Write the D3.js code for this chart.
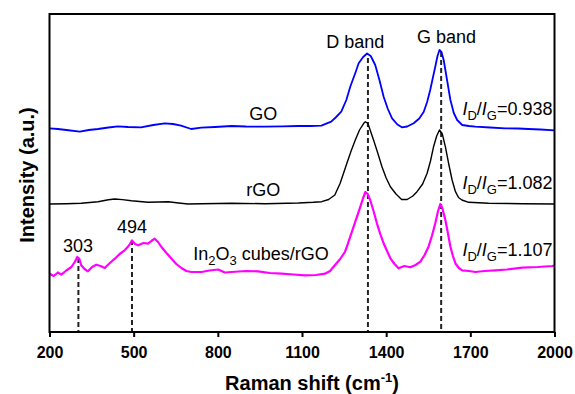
<!DOCTYPE html>
<meta charset="utf-8">
<style>
body {
    margin: 0;
    background: #fff;
}
svg {
    font-family: Arial, "Liberation Sans", Helvetica, sans-serif;
}
.frame {
    fill: none;
    stroke: #000;
    stroke-width: 2px;
}
.axis path {
    display: none;
}
.axis line {
    stroke: #000;
    stroke-width: 2px;
}
.axis text {
    font-size: 16px;
    font-weight: bold;
    fill: #000;
}
.spectrum {
    fill: none;
    stroke-linejoin: round;
}
.marker {
    stroke: #222;
    stroke-width: 2px;
    stroke-dasharray: 5,3;
}
.note {
    font-size: 18px;
    fill: #000;
}
.title {
    font-size: 20px;
    font-weight: bold;
    fill: #000;
}
</style>
<body>
<svg width="575" height="394"></svg>

<script src="https://cdn.jsdelivr.net/npm/d3@7"></script>
<script>
// Raman spectra (shift in cm-1, intensity in a.u. with the stacking offset included)
var goData = [
    [200,203.7],[230,203],[260,202],[308,200.3],[340,202],[373,203],[410,204.5],[444,205.7],
    [480,205],[526,204.7],[570,207],[611,208.7],[640,208],[669,206.3],[705,203],[741,204.3],
    [790,205],[848,206],[900,205.5],[968,205.3],[1030,205.7],[1087,206],[1130,206],[1169,206.3],
    [1204,210.3],[1220,214.5],[1240,220.3],[1258,232],[1272,245.3],[1290,259],[1302,268.7],
    [1318,275],[1332,278.5],[1345,276],[1361,267],[1376,252],[1391,235.3],[1406,223],[1421,213.7],
    [1440,207.5],[1456,204.7],[1475,205.5],[1498,208.7],[1518,213.5],[1534,220.3],[1546,230],
    [1557,242],[1567,255],[1575,265.3],[1583,276],[1590,282],[1597,280],[1605,272],[1617,252],
    [1629,232],[1641,219],[1653,212],[1671,207],[1695,206],[1718,205.3],[1770,204.5],[1825,203.7],
    [1870,203.5],[1907,203],[1950,202.5],[2000,201.7]
];

var rgoData = [
    [200,128],[260,128.3],[313,128.7],[373,130.3],[410,132.2],[433,133],[460,132.4],[492,131.3],
    [551,129.7],[590,130],[623,130.3],[660,129],[694,128],[742,128.3],[800,128.5],[848,128.7],
    [968,128.3],[1087,129],[1140,129.7],[1170,130.3],[1195,132.5],[1217,137],[1236,148.7],
    [1260,168.7],[1275,181],[1290,192],[1305,202],[1320,208.7],[1326,210.3],[1335,208.5],
    [1355,192],[1370,179],[1385,165.3],[1400,154],[1415,145.3],[1435,138],[1455,132.5],
    [1475,132.5],[1495,136],[1510,140.3],[1530,148],[1546,158.7],[1558,171],[1569,185.3],
    [1580,196],[1590,202],[1600,198],[1611,185.3],[1623,168],[1635,152],[1647,140.3],
    [1658,134.5],[1670,132],[1694,129.7],[1765,128.7],[1885,128.3],[2000,128]
];

var in2o3Data = [
    [200,58.3],[215,56],[230,59.5],[242,57.3],[260,61.5],[278,65],[290,70],[299,75],[306,73.5],
    [313,66.7],[325,63],[337,60.7],[352,65],[367,67.3],[382,66],[397,64],[415,69],[433,73.3],
    [450,78],[468,81.7],[482,86],[494,91.5],[505,88],[516,86.7],[535,89],[551,88.3],[563,91],
    [575,93.3],[587,90],[599,85],[617,79],[635,73.3],[652,68],[670,64],[688,61],[706,60],
    [742,60],[770,61.5],[801,62.5],[825,59.5],[849,60],[900,61],[944,60.7],[985,59],[1027,58.3],
    [1070,57.5],[1110,56.7],[1150,57],[1182,58.3],[1200,61],[1217,66.7],[1236,73],[1253,80],
    [1260,85.3],[1284,105.3],[1308,125.3],[1318,134],[1326,140],[1334,138],[1343,132],
    [1355,121],[1367,108.7],[1379,98],[1391,88.7],[1403,81],[1415,73.7],[1430,68],[1444,63.7],
    [1465,66],[1486,64.7],[1505,67],[1522,70.3],[1537,77],[1551,85.3],[1563,96],[1575,108.7],
    [1585,121],[1593,128],[1600,124],[1611,112],[1620,99],[1629,85.3],[1638,76],[1647,68.5],
    [1659,64],[1671,61.7],[1695,61],[1718,60],[1750,61],[1789,61.7],[1830,62.5],[1885,64.3],
    [1940,65],[1992,66],[2000,66.5]
];

var seriesNames = ["GO", "rGO", "In2O3 cubes/rGO"];
var seriesColors = ["#0000ff", "#000000", "#ff00ff"];
var ratios = ["0.938", "1.082", "1.107"];

// band positions marked with dashed lines: [shift, top of line]
var markers = [[303, 74], [494, 92], [1335, 274], [1596, 280]];

var xTicks = [200, 500, 800, 1100, 1400, 1700, 2000];

/********************************
 * SCALES
 ********************************/
var svg = d3.select("svg"),
    margin = {top: 14, right: 20.5, bottom: 62, left: 49.5},
    width = +svg.attr("width") - margin.left - margin.right,
    height = +svg.attr("height") - margin.top - margin.bottom;

var x = d3.scaleLinear().domain([200, 2000]).range([0, width]);
var y = d3.scaleLinear().domain([0, 318]).range([height, 0]);

var g = svg.append("g")
    .attr("transform", "translate(" + margin.left + "," + margin.top + ")");

var line = d3.line()
    .x(function(d) { return x(d[0]); })
    .y(function(d) { return y(d[1]); });

/********************************
 * DASHED MARKERS + SPECTRA
 ********************************/
g.selectAll(".marker")
    .data(markers)
  .enter().append("line")
    .attr("class", "marker")
    .attr("x1", function(d) { return x(d[0]); })
    .attr("x2", function(d) { return x(d[0]); })
    .attr("y1", function(d) { return y(d[1]); })
    .attr("y2", height);

g.selectAll(".spectrum")
    .data([goData, rgoData, in2o3Data])
  .enter().append("path")
    .attr("class", "spectrum")
    .attr("d", line)
    .style("stroke", function(d, i) { return seriesColors[i]; })
    .style("stroke-width", function(d, i) { return [1.8, 1.4, 2.2][i]; });

/********************************
 * FRAME + AXIS
 ********************************/
g.append("rect")
    .attr("class", "frame")
    .attr("width", width)
    .attr("height", height);

g.append("g")
    .attr("class", "axis")
    .attr("transform", "translate(0," + height + ")")
    .call(d3.axisBottom(x).tickValues(xTicks).tickSize(5).tickPadding(10).tickFormat(d3.format("d")));

var xt = svg.append("text")
    .attr("class", "title")
    .attr("x", margin.left + width / 2 + 10)
    .attr("y", 390)
    .attr("text-anchor", "middle");
xt.append("tspan").text("Raman shift (cm");
xt.append("tspan").attr("dy", -8).style("font-size", "13px").text("-1");
xt.append("tspan").attr("dy", 8).text(")");

svg.append("text")
    .attr("class", "title")
    .attr("transform", "translate(34," + (margin.top + height / 2 + 2) + ")rotate(-90)")
    .attr("text-anchor", "middle")
    .text("Intensity (a.u.)");

/********************************
 * ANNOTATIONS
 ********************************/
var nameAt = [[962, 212], [962, 136], [712, 72]];
var ratioAt = [217, 143, 76];

g.selectAll(".name")
    .data(seriesNames)
  .enter().append("text")
    .attr("class", "note name")
    .attr("x", function(d, i) { return x(nameAt[i][0]); })
    .attr("y", function(d, i) { return y(nameAt[i][1]); })
    .attr("text-anchor", function(d, i) { return i == 2 ? "start" : "middle"; })
    .each(function(d, i) {
        var t = d3.select(this);
        if (i < 2) { t.text(d); return; }
        t.append("tspan").text("In");
        t.append("tspan").attr("dy", 5).style("font-size", "13px").text("2");
        t.append("tspan").attr("dy", -5).text("O");
        t.append("tspan").attr("dy", 5).style("font-size", "13px").text("3");
        t.append("tspan").attr("dy", -5).text(" cubes/rGO");
    });

g.selectAll(".ratio")
    .data(ratios)
  .enter().append("text")
    .attr("class", "note ratio")
    .attr("x", x(1993))
    .attr("y", function(d, i) { return y(ratioAt[i]); })
    .attr("text-anchor", "end")
    .each(function(d) {
        var t = d3.select(this);
        t.append("tspan").style("font-style", "italic").text("I");
        t.append("tspan").attr("dy", 5).style("font-size", "13px").text("D");
        t.append("tspan").attr("dy", -5).text("/");
        t.append("tspan").style("font-style", "italic").text("I");
        t.append("tspan").attr("dy", 5).style("font-size", "13px").text("G");
        t.append("tspan").attr("dy", -5).text("=" + d);
    });

var bandLabels = [["D band", 1290, 284], ["G band", 1615, 289], ["303", 302, 80.3], ["494", 494, 99]];

g.selectAll(".band")
    .data(bandLabels)
  .enter().append("text")
    .attr("class", "note band")
    .attr("x", function(d) { return x(d[1]); })
    .attr("y", function(d) { return y(d[2]); })
    .attr("text-anchor", "middle")
    .text(function(d) { return d[0]; });
</script>
</body>
